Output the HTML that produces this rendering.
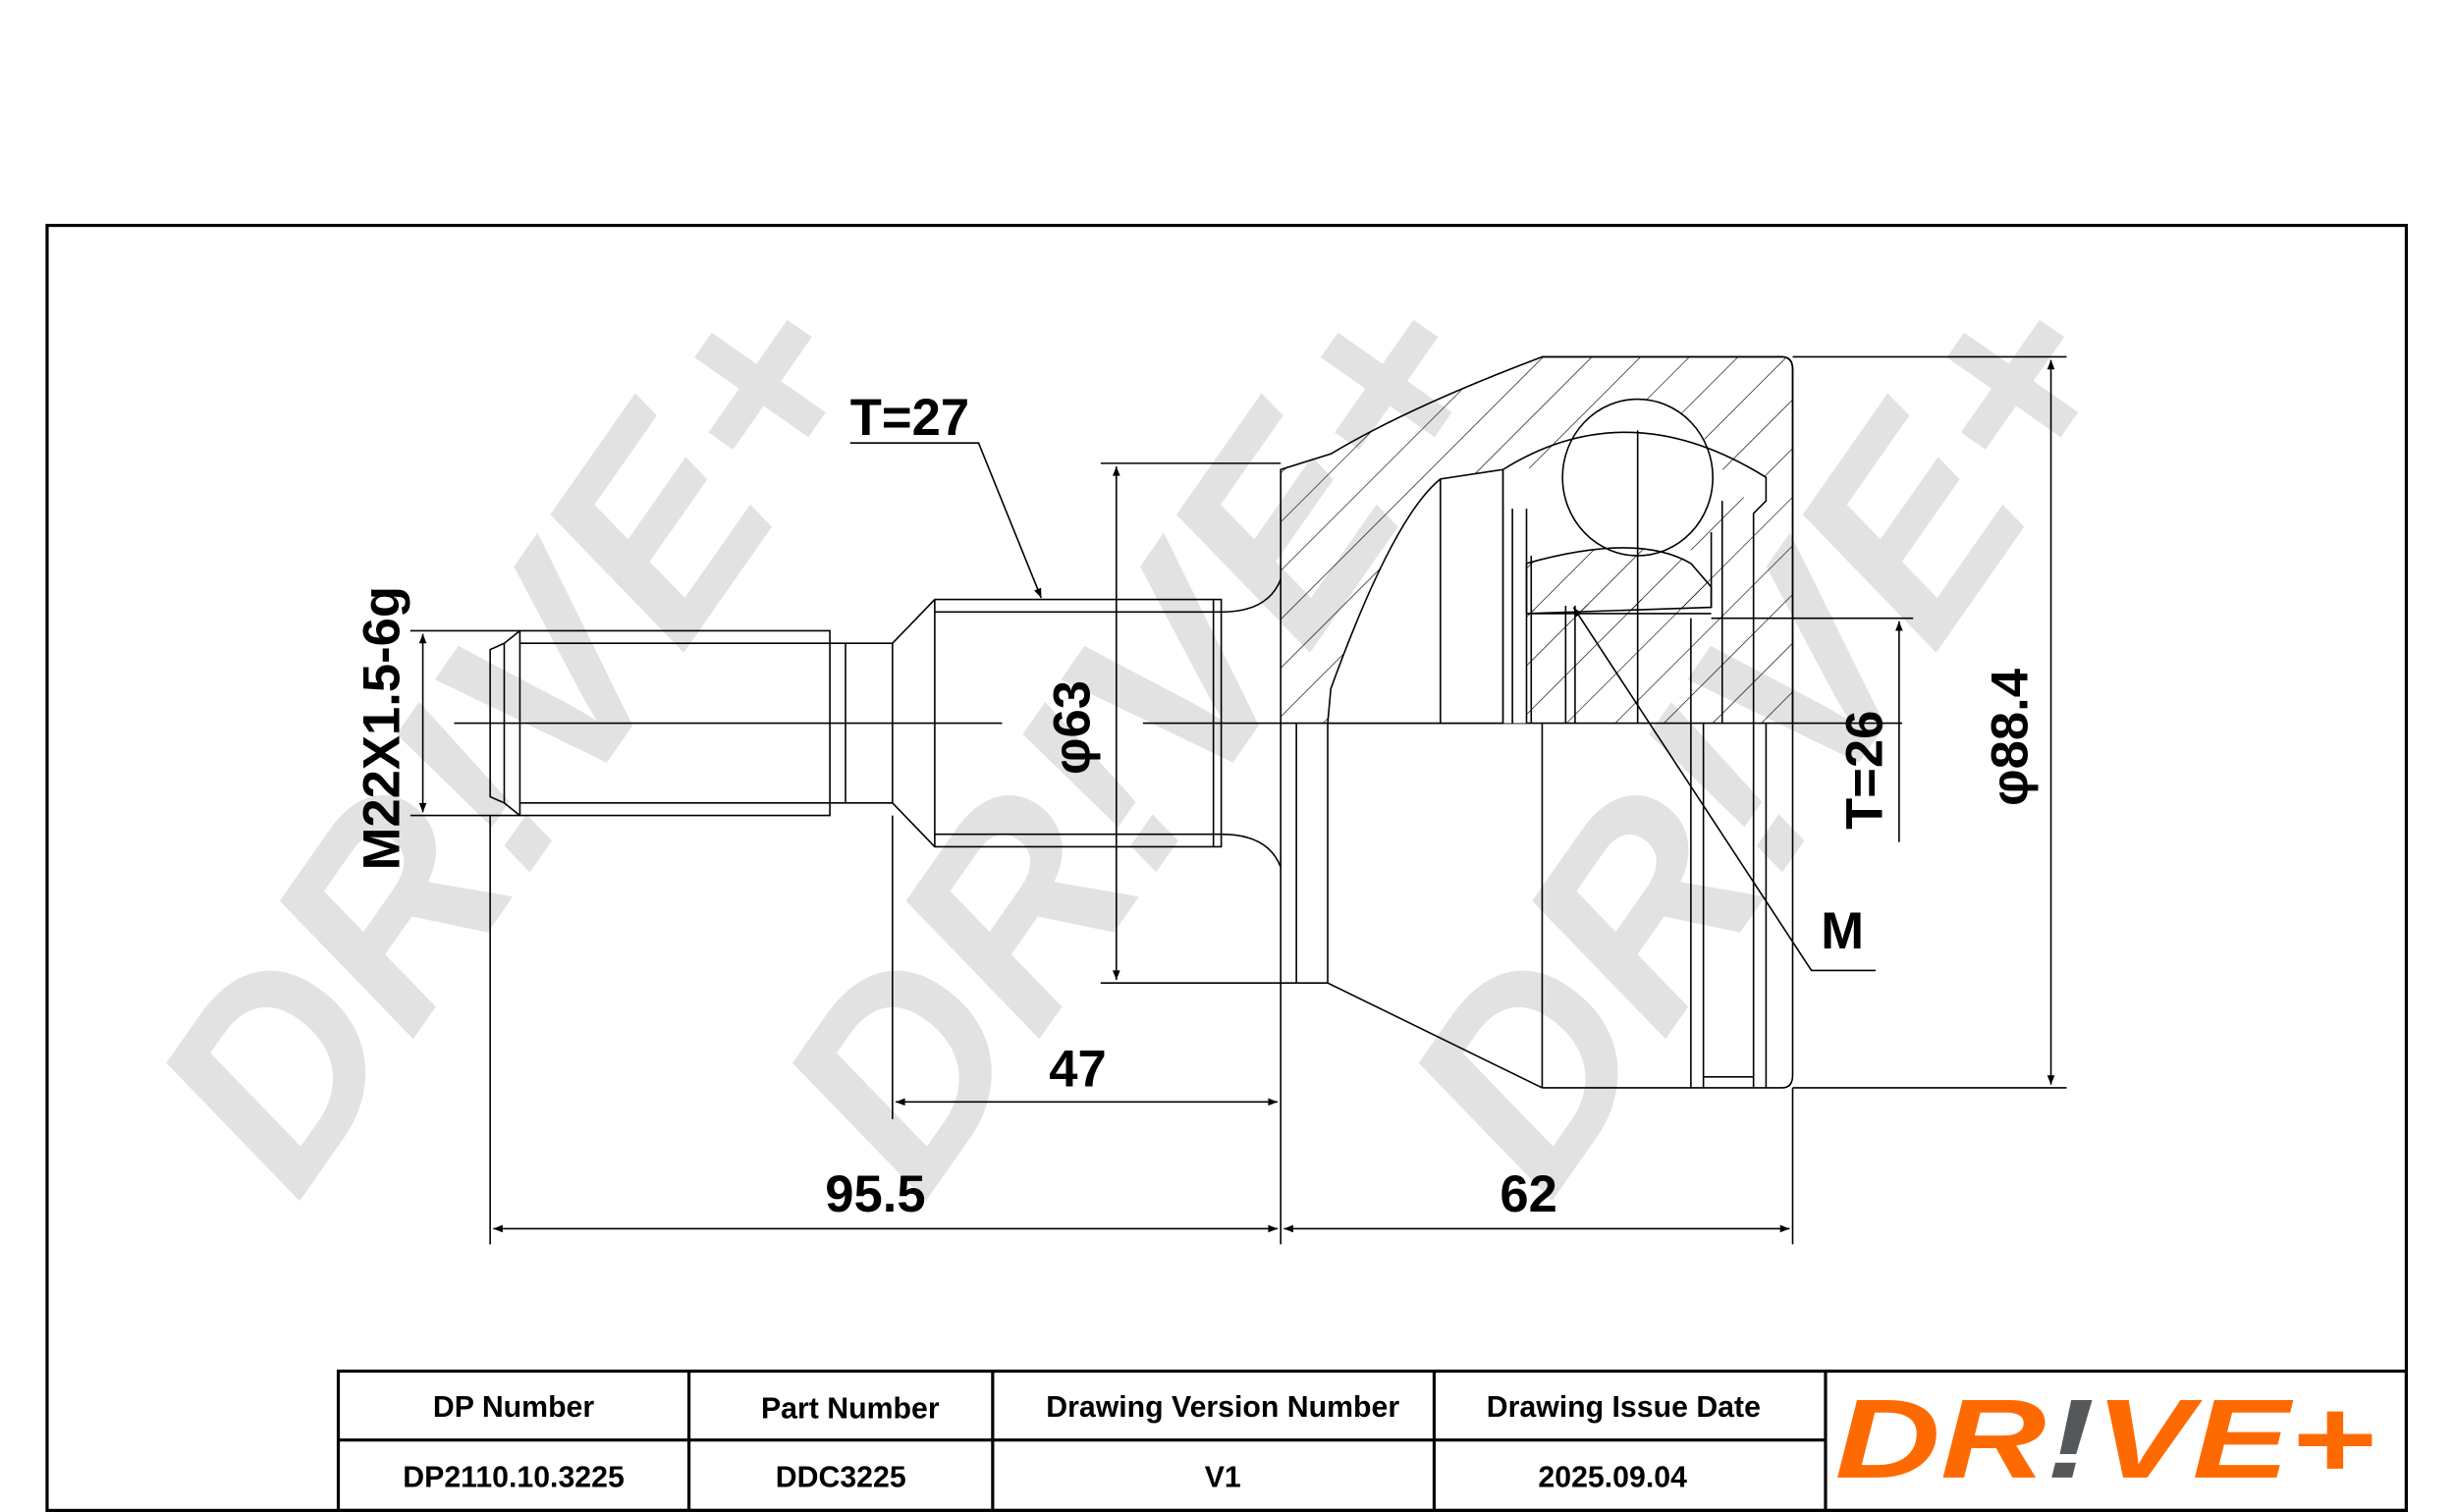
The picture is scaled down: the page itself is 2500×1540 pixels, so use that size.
<!DOCTYPE html>
<html><head><meta charset="utf-8"><style>html,body{margin:0;padding:0;background:#fff}svg{display:block}</style></head><body>
<svg width="2500" height="1540" viewBox="0 0 1568 966" xmlns="http://www.w3.org/2000/svg" font-family="Liberation Sans, sans-serif">
<defs>
<pattern id="h" patternUnits="userSpaceOnUse" width="22" height="22" patternTransform="rotate(45)"><line x1="0" y1="0" x2="0" y2="22" stroke="#000" stroke-width="0.8"/></pattern>
<marker id="a" viewBox="0 0 10 10" refX="10" refY="5" markerWidth="12" markerHeight="6" orient="auto-start-reverse" markerUnits="userSpaceOnUse"><path d="M0,1 L10,5 L0,9z" fill="#000"/></marker>
</defs>
<rect width="1568" height="966" fill="#fff"/>
<g fill="#e2e2e2" font-weight="bold" font-style="italic" font-size="175" text-anchor="middle">
<text transform="translate(375,505) rotate(-55)">DR!VE+</text>
<text transform="translate(775,505) rotate(-55)">DR!VE+</text>
<text transform="translate(1175,505) rotate(-55)">DR!VE+</text>
</g>
<rect x="30" y="144" width="1507" height="821" fill="none" stroke="#000" stroke-width="2"/>
<g fill="none" stroke="#000" stroke-width="1">
<line x1="290" y1="462" x2="640" y2="462"/><line x1="730" y1="462" x2="1215" y2="462"/>
<path d="M332,403 L530,403 L530,521 L332,521 Z"/>
<path d="M332,403 L322,411 L313,415 L313,509 L322,513 L332,521"/>
<line x1="322" y1="411" x2="322" y2="513"/>
<line x1="332" y1="411" x2="530" y2="411"/><line x1="332" y1="513" x2="530" y2="513"/>
<path d="M530,411 L540,411 L540,513 L530,513"/>
<path d="M540,411 L570,411 L597,383 L780,383 L780,541 L597,541 L570,513 L540,513"/>
<line x1="570" y1="411" x2="570" y2="513"/>
<line x1="597" y1="383" x2="597" y2="541"/>
<line x1="597" y1="391" x2="780" y2="391"/><line x1="597" y1="533" x2="780" y2="533"/>
<line x1="775" y1="383" x2="775" y2="541"/>
<path d="M780,391 Q810,391 818,370"/><path d="M780,533 Q810,533 818,554"/>
<path d="M818,462 L818,300 L850,290 Q900,260 985,228 L1138,228 Q1145,228 1145,236 L1145,462" fill="url(#h)"/>
<path d="M848,462 L850,440 Q890,330 920,306 L960,300 L960,462 Z" fill="#fff"/>
<path d="M960,300 L1000,298 Q1030,270 1060,270 Q1090,270 1100,300 L1128,305 L1128,320 L1080,312 L1080,380 L975,390 L975,462 L960,462Z" fill="#fff" stroke="none"/>
<ellipse cx="1046" cy="305" rx="48" ry="50" fill="#fff"/>
<path d="M975,360 Q1046,340 1080,360 L1093,375 L1093,388 L975,392 Z" fill="url(#h)"/>
<path d="M985,228 L1138,228 Q1145,228 1145,236 L1145,687 Q1145,695 1138,695 L985,695"/>
<path d="M960,300 Q1040,250 1128,305 L1128,320 L1120,328 L1120,462"/>
<line x1="960" y1="300" x2="960" y2="462"/><line x1="966" y1="325" x2="966" y2="462"/>
<line x1="975" y1="325" x2="975" y2="462"/><line x1="978" y1="355" x2="978" y2="462"/>
<line x1="1093" y1="340" x2="1093" y2="388"/><line x1="1100" y1="320" x2="1100" y2="462"/>
<line x1="1080" y1="395" x2="1080" y2="462"/><line x1="1000" y1="387" x2="1000" y2="462"/><line x1="1006" y1="387" x2="1006" y2="462"/>
<line x1="920" y1="306" x2="920" y2="462"/>
<line x1="1046" y1="275" x2="1046" y2="462"/>
<line x1="975" y1="392" x2="1093" y2="392"/>
<path d="M818,462 L818,628 L848,628 L985,695"/>
<line x1="828" y1="462" x2="828" y2="628"/><line x1="848" y1="462" x2="848" y2="628"/>
<line x1="985" y1="462" x2="985" y2="695"/>
<line x1="1080" y1="462" x2="1080" y2="695"/><line x1="1088" y1="462" x2="1088" y2="695"/>
<line x1="1120" y1="462" x2="1120" y2="695"/><line x1="1128" y1="462" x2="1128" y2="695"/>
<line x1="1088" y1="688" x2="1120" y2="688"/>
<line x1="262" y1="403" x2="332" y2="403"/><line x1="262" y1="521" x2="332" y2="521"/>
<line x1="270" y1="405" x2="270" y2="519" marker-start="url(#a)" marker-end="url(#a)"/>
<line x1="703" y1="296" x2="818" y2="296"/><line x1="703" y1="628" x2="818" y2="628"/>
<line x1="713" y1="298" x2="713" y2="626" marker-start="url(#a)" marker-end="url(#a)"/>
<line x1="1145" y1="228" x2="1320" y2="228"/><line x1="1145" y1="695" x2="1320" y2="695"/>
<line x1="1310" y1="230" x2="1310" y2="693" marker-start="url(#a)" marker-end="url(#a)"/>
<line x1="1093" y1="395" x2="1222" y2="395"/>
<line x1="1213" y1="397" x2="1213" y2="538" marker-start="url(#a)"/>
<line x1="313" y1="521" x2="313" y2="795"/><line x1="570" y1="521" x2="570" y2="715"/>
<line x1="818" y1="628" x2="818" y2="795"/><line x1="1145" y1="695" x2="1145" y2="795"/>
<line x1="572" y1="704" x2="816" y2="704" marker-start="url(#a)" marker-end="url(#a)"/>
<line x1="315" y1="785" x2="816" y2="785" marker-start="url(#a)" marker-end="url(#a)"/>
<line x1="820" y1="785" x2="1143" y2="785" marker-start="url(#a)" marker-end="url(#a)"/>
<path d="M543,283 L625,283 L665,382" marker-end="url(#a)"/>
<path d="M1198,620 L1157,620 L1005,388" marker-end="url(#a)"/>
</g>
<g font-weight="bold" font-size="33" fill="#000">
<text x="543" y="278">T=27</text>
<text x="1163" y="606">M</text>
<text x="670" y="694">47</text>
<text x="527" y="774">95.5</text>
<text x="958" y="774">62</text>
<text transform="translate(696,495) rotate(-90)">φ63</text>
<text transform="translate(1295,515) rotate(-90)">φ88.4</text>
<text transform="translate(1202,530) rotate(-90)">T=26</text>
<text transform="translate(255,556) rotate(-90)">M22X1.5-6g</text>
</g>
<g fill="none" stroke="#000" stroke-width="2">
<rect x="216" y="876" width="1321" height="89"/>
<line x1="216" y1="920" x2="1166" y2="920"/>
<line x1="440" y1="876" x2="440" y2="965"/><line x1="634" y1="876" x2="634" y2="965"/>
<line x1="916" y1="876" x2="916" y2="965"/><line x1="1166" y1="876" x2="1166" y2="965"/>
</g>
<g font-weight="bold" font-size="19" text-anchor="middle" fill="#000">
<text x="328" y="905">DP Number</text><text x="543" y="906">Part Number</text>
<text x="781" y="905">Drawing Version Number</text><text x="1037" y="905">Drawing Issue Date</text>
<text x="328" y="950">DP2110.10.3225</text><text x="537" y="950">DDC3225</text>
<text x="781" y="950">V1</text><text x="1030" y="950">2025.09.04</text>
</g>
<g font-weight="bold" font-style="italic" font-size="72">
<text x="1172" y="944" fill="#ff6a00" textLength="345" lengthAdjust="spacingAndGlyphs">DR<tspan fill="#55585b">!</tspan>VE+</text>
</g>
</svg>
</body></html>
